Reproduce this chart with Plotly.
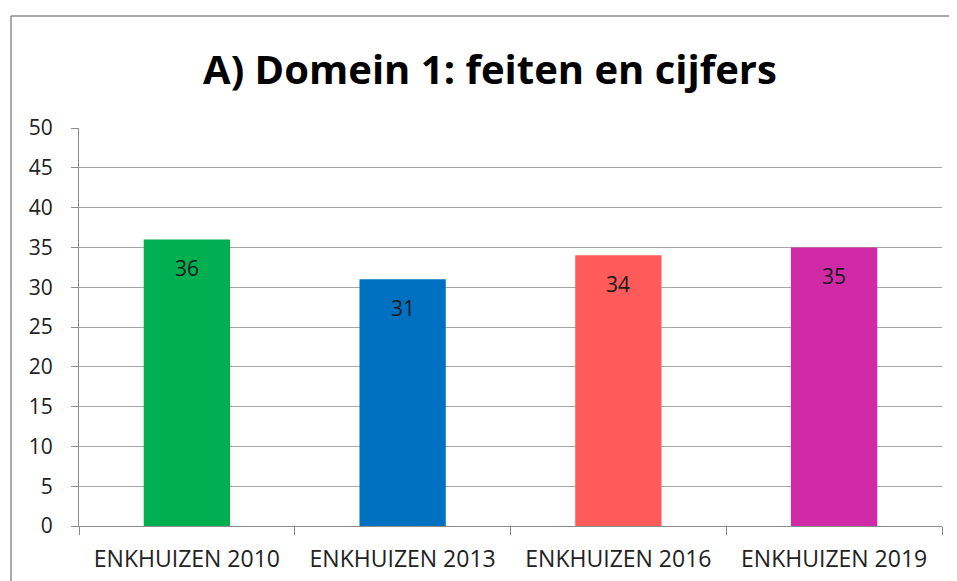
import plotly.graph_objects as go

categories = ["ENKHUIZEN 2010", "ENKHUIZEN 2013", "ENKHUIZEN 2016", "ENKHUIZEN 2019"]
values = [36, 31, 34, 35]
colors = ["#00B050", "#0070C0", "#FF5B5B", "#D12AA6"]
title_text = "A) Domein 1: feiten en cijfers"

FONT = "Open Sans"
OFF = 8  # page body margin

fig = go.Figure()
fig.add_trace(go.Bar(
    x=categories, y=values, marker=dict(color=colors, line=dict(width=0)),
    width=0.4, showlegend=False, hoverinfo="x+y",
))

for c, v in zip(categories, values):
    fig.add_annotation(x=c, y=v, text=str(v), showarrow=False, yshift=-29,
                       font=dict(family=FONT, size=21, color="#1a1a1a"))

W, H = 957 - OFF, 581 - OFF
ml, mr, mt, mb = 79 - OFF, 15, 128 - OFF, 55
pw, ph = W - ml - mr, H - mt - mb
# outer chart border (left and top visible)
x0 = (11 - OFF - ml) / pw
y1 = (H - mb - (16 - OFF)) / ph
fig.add_shape(type="line", xref="paper", yref="paper", x0=x0, x1=x0, y0=-1, y1=y1,
              line=dict(color="#8c8c8c", width=1.5))
fig.add_shape(type="line", xref="paper", yref="paper", x0=x0, x1=2, y0=y1, y1=y1,
              line=dict(color="#8c8c8c", width=1.5))

fig.update_layout(
    width=W, height=H,
    margin=dict(l=ml, r=mr, t=mt, b=mb),
    paper_bgcolor="white", plot_bgcolor="white",
    title=dict(text="<b>" + title_text + "</b>", x=(490 - OFF) / W, xanchor="center",
               y=1 - (70 - OFF) / H, yanchor="middle",
               font=dict(family=FONT, size=40, color="black")),
    font=dict(family=FONT),
    bargap=0.6,
)
fig.update_yaxes(range=[0, 50], dtick=5, showgrid=True, gridcolor="#a6a6a6", gridwidth=1,
                 showline=True, linecolor="#8c8c8c", linewidth=1,
                 ticks="outside", ticklen=7, tickcolor="#8c8c8c", ticklabelstandoff=14,
                 tickfont=dict(family=FONT, size=21, color="#222"), zeroline=False,
                 automargin=False, fixedrange=True)
fig.update_xaxes(showline=True, linecolor="#8c8c8c", linewidth=1,
                 ticks="outside", ticklen=8, tickcolor="#8c8c8c", tickson="boundaries",
                 ticklabelstandoff=12, automargin=False,
                 tickfont=dict(family=FONT, size=23, color="#222"), fixedrange=True)

fig.write_html("out.html")
